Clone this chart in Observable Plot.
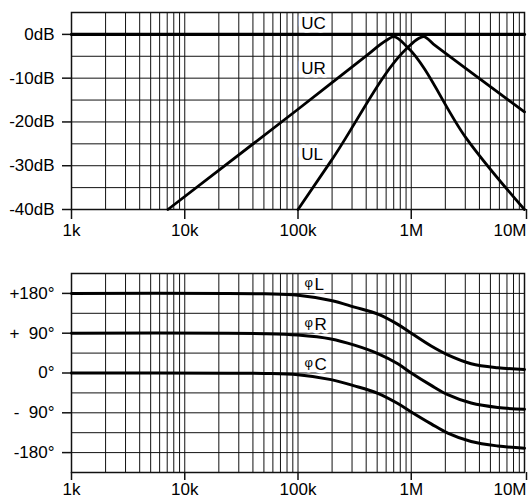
<!DOCTYPE html>
<html>
<head>
<meta charset="utf-8">
<script src="https://cdn.jsdelivr.net/npm/d3@7"></script>
<script src="https://cdn.jsdelivr.net/npm/@observablehq/plot@0.6"></script>
<style>
  html, body { margin: 0; padding: 0; background: #fff; }
  #chart { width: 528px; }
  #chart svg { display: block; }
</style>
</head>
<body>
<div id="chart"></div>
<script>
// ---- axes / ticks ----
const decades = [1e3, 1e4, 1e5, 1e6, 1e7];
const xLabels = ["1k", "10k", "100k", "1M", "10M"];
const gridMultipliers = [1, 2, 3, 4, 5, 6, 7, 8, 9];

const dbTicks = [0, -10, -20, -30, -40];
const dbLabels = ["0dB", "-10dB", "-20dB", "-30dB", "-40dB"];
const dbGrid = [5, 0, -5, -10, -15, -20, -25, -30, -35, -40];

const phaseTicks = [180, 90, 0, -90, -180];
const phaseLabels = ["+180°", "+\u00a0 90°", "0°", "- \u00a090°", "-180°"];
const phaseGrid = [225, 180, 135, 90, 45, 0, -45, -90, -135, -180, -225];

// ---- magnitude series (frequency in Hz, level in dB) ----
const ucFreq = [1e3, 1e7];
const ucDb = [0, 0];
const urFreq = [7.1e3, 1e5, 4e5, 6e5, 7e5, 9.3e5, 3e6, 1e7];
const urDb = [-40, -17.1, -4.9, -1.4, -0.5, -3.0, -23.4, -40];
const ulFreq = [1e5, 1.96e5, 9.3e5, 1.15e6, 1.28e6, 1.6e6, 1e7];
const ulDb = [-40, -28.9, -3.0, -1.0, -0.5, -2.4, -17.7];

// ---- phase series (degrees) ----
const phFreq = [1e3, 5.06e4, 1e5, 1.96e5, 3.15e5, 5.07e5, 7.61e5, 1e6, 1.5e6, 2.1e6, 3.38e6, 5.8e6, 1e7];
const phiL = [180, 179, 176, 164, 149, 133, 110, 90, 61, 41, 21, 12, 8];
const phiR = [90, 89, 86, 77, 63, 44, 21, 0, -28, -49, -68, -78, -82];
const phiC = [0, -1, -4, -15, -29, -46, -69, -88, -115, -136, -155, -165, -170];

// ---- curve labels ----
const magLabelNames = ["UC", "UR", "UL"];
const magLabelFreq = [1.07e5, 1.07e5, 1.07e5];
const magLabelDb = [2.5, -7.9, -27.4];
const phLabelNames = ["L", "R", "C"];
const phLabelFreq = [1.14e5, 1.14e5, 1.14e5];
const phLabelDeg = [200, 110, 18];

// ---- build tables ----
const rows = (fs, vs, name) => fs.map((f, i) => ({f, v: vs[i], name}));
const gridX = decades.slice(0, 4).flatMap(d => gridMultipliers.map(m => m * d)).concat([1e7]);
const xLab = d => xLabels[decades.indexOf(d)];

const font = "'Liberation Sans', Arial, Helvetica, sans-serif";
const style = {fontFamily: font, fontSize: "17px", color: "#000", background: "#fff", overflow: "visible"};
const ink = "#111";

function xAxes(tickSize, tickPadding) {
  return [
    Plot.axisX(decades.slice(0, 4), {tickFormat: xLab, tickSize, tickPadding, stroke: ink, strokeWidth: 1.5, label: null, fill: "#000"}),
    Plot.axisX([1e7], {tickFormat: xLab, tickSize, tickPadding, stroke: ink, strokeWidth: 1.5, label: null, textAnchor: "end", dx: 2, fill: "#000"})
  ];
}

const magPlot = Plot.plot({
  width: 528, height: 250,
  marginLeft: 71, marginRight: 4, marginTop: 12, marginBottom: 41,
  style,
  x: {type: "log", domain: [1e3, 1e7], label: null},
  y: {domain: [-40, 5], label: null},
  marks: [
    Plot.ruleX(gridX, {stroke: ink, strokeWidth: 1}),
    Plot.ruleY(dbGrid, {stroke: ink, strokeWidth: 1}),
    Plot.frame({stroke: ink, strokeWidth: 1.5}),
    Plot.axisY(dbTicks, {tickFormat: d => dbLabels[dbTicks.indexOf(d)], tickSize: 9, tickPadding: 8, stroke: ink, strokeWidth: 1.5, label: null, fill: "#000"}),
    ...xAxes(10, 4),
    Plot.line(rows(ucFreq, ucDb, "UC"), {x: "f", y: "v", stroke: "#000", strokeWidth: 3.2}),
    Plot.line(rows(urFreq, urDb, "UR"), {x: "f", y: "v", stroke: "#000", strokeWidth: 2.8, curve: "monotone-x"}),
    Plot.line(rows(ulFreq, ulDb, "UL"), {x: "f", y: "v", stroke: "#000", strokeWidth: 2.8, curve: "monotone-x"}),
    Plot.text(magLabelNames.map((t, i) => ({t, f: magLabelFreq[i], v: magLabelDb[i]})),
      {x: "f", y: "v", text: "t", textAnchor: "start", fill: "#000", stroke: "#fff", strokeWidth: 7, fontSize: 17})
  ]
});

const phasePlot = Plot.plot({
  width: 528, height: 249,
  marginLeft: 71, marginRight: 4, marginTop: 23, marginBottom: 27,
  style,
  x: {type: "log", domain: [1e3, 1e7], label: null},
  y: {domain: [-225, 225], label: null},
  marks: [
    Plot.ruleX(gridX, {stroke: ink, strokeWidth: 1}),
    Plot.ruleY(phaseGrid, {stroke: ink, strokeWidth: 1}),
    Plot.frame({stroke: ink, strokeWidth: 1.5}),
    Plot.axisY(phaseTicks, {tickFormat: d => phaseLabels[phaseTicks.indexOf(d)], tickSize: 9, tickPadding: 8, stroke: ink, strokeWidth: 1.5, label: null, fill: "#000"}),
    ...xAxes(8, 2),
    Plot.line(rows(phFreq, phiL, "L"), {x: "f", y: "v", stroke: "#000", strokeWidth: 3, curve: "catmull-rom"}),
    Plot.line(rows(phFreq, phiR, "R"), {x: "f", y: "v", stroke: "#000", strokeWidth: 3, curve: "catmull-rom"}),
    Plot.line(rows(phFreq, phiC, "C"), {x: "f", y: "v", stroke: "#000", strokeWidth: 3, curve: "catmull-rom"}),
    Plot.text(phLabelNames.map((t, i) => ({t, f: phLabelFreq[i], v: phLabelDeg[i]})),
      {x: "f", y: "v", text: "t", textAnchor: "start", dx: 10, fill: "#000", stroke: "#fff", strokeWidth: 7, fontSize: 17}),
    Plot.text(phLabelNames.map((t, i) => ({t, f: phLabelFreq[i], v: phLabelDeg[i]})),
      {x: "f", y: "v", text: () => "φ", textAnchor: "start", dy: -2, fill: "#000", stroke: "#fff", strokeWidth: 5, fontSize: 13})
  ]
});

const chart = document.getElementById("chart");
chart.appendChild(magPlot);
chart.appendChild(phasePlot);
</script>
</body>
</html>
